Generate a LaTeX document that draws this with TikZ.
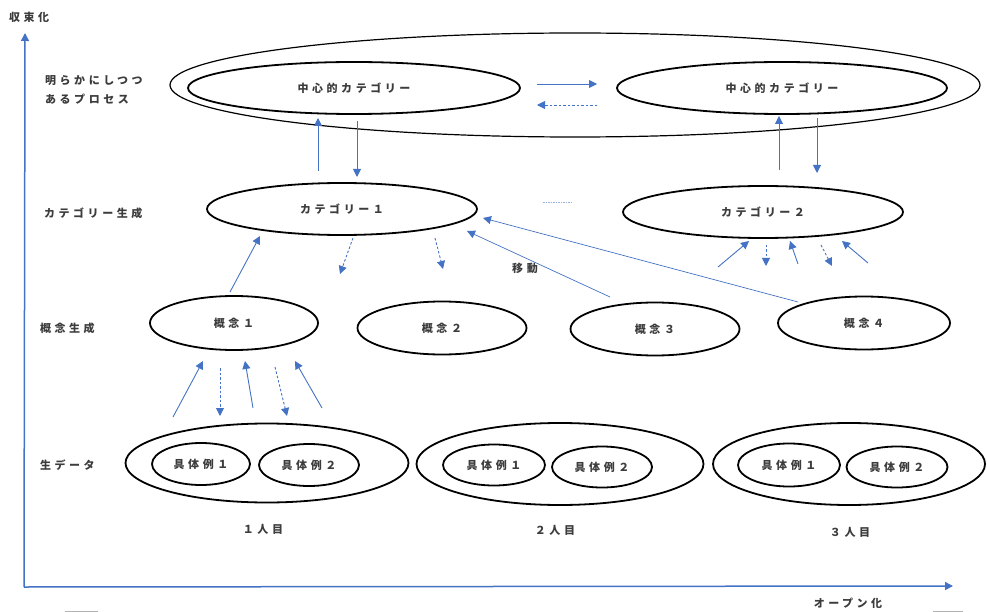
\documentclass[tikz,border=0pt]{standalone}
\usepackage{fontspec}
\newfontfamily\jp[LetterSpace=32]{Noto Sans CJK JP}
\usetikzlibrary{shapes.geometric,arrows.meta}
\definecolor{ablue}{RGB}{68,114,196}
\definecolor{txt}{RGB}{60,60,60}
\tikzset{
  ell/.style={draw=black, line width=1.8pt, ellipse, inner sep=0pt, font=\jp\bfseries\fontsize{11}{13}\selectfont, text=txt},
  lbl/.style={font=\jp\bfseries\fontsize{11}{13}\selectfont, text=txt, inner sep=0pt},
  sol/.style={draw=ablue, line width=0.9pt, -{Triangle[width=8pt,length=8pt]}},
  dsh/.style={draw=ablue, line width=0.9pt, dash pattern=on 2.5pt off 2pt, -{Triangle[width=8pt,length=8pt]}},
  thin/.style={draw=ablue, line width=0.7pt, -{Triangle[width=8pt,length=8pt]}},
  axisline/.style={draw=ablue, line width=1.5pt, -{Triangle[width=8pt,length=8pt]}},
}
\begin{document}
\begin{tikzpicture}[x=1pt,y=-1pt]
\useasboundingbox (0,0) rectangle (987,612);
% axes
\coordinate (O) at (24,587);
\coordinate (Ytop) at (25,33);
\coordinate (Xend) at (953,586);
\draw[axisline] (O) -- (Ytop);
\draw[axisline] (O) -- (Xend);
\node[lbl, anchor=west] (ylab) at (9,17) {収束化};
\node[lbl] (xlab) at (848,603) {オープン化};
% small gray marks at bottom
\coordinate (m1a) at (65,611); \coordinate (m1b) at (98,611);
\coordinate (m2a) at (933,611); \coordinate (m2b) at (963,611);
\draw[gray!60, line width=1pt] (m1a) -- (m1b);
\draw[gray!60, line width=1pt] (m2a) -- (m2b);

% row labels
\node[lbl, anchor=west] (r1a) at (45,81) {明らかにしつつ};
\node[lbl, anchor=west] (r1b) at (45,99) {あるプロセス};
\node[lbl, anchor=west] (r2) at (44,213) {カテゴリー生成};
\node[lbl, anchor=west] (r3) at (40,328) {概念生成};
\node[lbl, anchor=west] (r4) at (40,465) {生データ};

% top process
\node[ell, line width=1.2pt, minimum width=810pt, minimum height=104pt] (outer) at (575,85) {};
\node[ell, minimum width=332pt, minimum height=52pt] (c1) at (354,88) {中心的カテゴリー};
\node[ell, minimum width=330pt, minimum height=52pt] (c2) at (782,88) {中心的カテゴリー};

% categories
\node[ell, minimum width=270pt, minimum height=52pt] (cat1) at (342,209) {カテゴリー１};
\node[ell, minimum width=280pt, minimum height=52pt] (cat2) at (763,212) {カテゴリー２};

% concepts
\node[ell, minimum width=168pt, minimum height=54pt] (k1) at (234,323) {概念１};
\node[ell, minimum width=169pt, minimum height=53pt] (k2) at (442,328) {概念２};
\node[ell, minimum width=169pt, minimum height=53pt] (k3) at (655,329) {概念３};
\node[ell, minimum width=172pt, minimum height=53pt] (k4) at (864,323) {概念４};

% raw data
\node[ell, minimum width=283pt, minimum height=79pt] (g1) at (267,463) {};
\node[ell, minimum width=98pt, minimum height=42pt] (g1a) at (201,464) {具体例１};
\node[ell, minimum width=100pt, minimum height=42pt] (g1b) at (309,465) {具体例２};
\node[ell, minimum width=287pt, minimum height=82pt] (g2) at (560,464) {};
\node[ell, minimum width=102pt, minimum height=41pt] (g2a) at (494,465) {具体例１};
\node[ell, minimum width=100pt, minimum height=41pt] (g2b) at (602,467) {具体例２};
\node[ell, minimum width=272pt, minimum height=82pt] (g3) at (849,464) {};
\node[ell, minimum width=102pt, minimum height=43pt] (g3a) at (789,465) {具体例１};
\node[ell, minimum width=101pt, minimum height=41pt] (g3b) at (897,467) {具体例２};
\node[lbl] (p1) at (263,529) {１人目};
\node[lbl] (p2) at (555,530) {２人目};
\node[lbl] (p3) at (850,532) {３人目};

% arrows between central categories
\coordinate (h1s) at (537,84); \coordinate (h1e) at (597,84);
\coordinate (h2s) at (597,105); \coordinate (h2e) at (537,105);
\draw[sol] (h1s) -- (h1e);
\draw[dsh] (h2s) -- (h2e);

% vertical arrows central <-> categories
\coordinate (v1s) at (318,171); \coordinate (v1e) at (318,118);
\coordinate (v2s) at (357,121); \coordinate (v2e) at (357,177);
\coordinate (v3s) at (779,170); \coordinate (v3e) at (779,116);
\coordinate (v4s) at (817,118); \coordinate (v4e) at (817,173);
\draw[sol] (v1s) -- (v1e);
\draw[sol] (v2s) -- (v2e);
\draw[sol] (v3s) -- (v3e);
\draw[sol] (v4s) -- (v4e);

% short dotted line between categories
\coordinate (dl1) at (543,202); \coordinate (dl2) at (572,202);
\draw[ablue!55, line width=0.7pt, dash pattern=on 1.5pt off 1pt] (dl1) -- (dl2);

% category 1 arrows
\coordinate (a1s) at (230,292); \coordinate (a1e) at (260,236);
\coordinate (a2s) at (353,238); \coordinate (a2e) at (340,274);
\coordinate (a3s) at (435,238); \coordinate (a3e) at (443,269);
\draw[sol] (a1s) -- (a1e);
\draw[dsh] (a2s) -- (a2e);
\draw[dsh] (a3s) -- (a3e);

% move arrows
\coordinate (m3s) at (610,297); \coordinate (m3e) at (467,231);
\coordinate (m4s) at (798,302); \coordinate (m4e) at (483,218);
\draw[thin] (m3s) -- (m3e);
\draw[thin] (m4s) -- (m4e);
\node[lbl] (move) at (525,268) {移動};

% category 2 arrows
\coordinate (b1s) at (718,267); \coordinate (b1e) at (749,241);
\coordinate (b2s) at (766,245); \coordinate (b2e) at (766,266);
\coordinate (b3s) at (798,264); \coordinate (b3e) at (790,241);
\coordinate (b4s) at (821,245); \coordinate (b4e) at (832,266);
\coordinate (b5s) at (868,263); \coordinate (b5e) at (842,241);
\draw[sol] (b1s) -- (b1e);
\draw[dsh] (b2s) -- (b2e);
\draw[sol] (b3s) -- (b3e);
\draw[dsh] (b4s) -- (b4e);
\draw[sol] (b5s) -- (b5e);

% concept 1 arrows
\coordinate (d1s) at (173,417); \coordinate (d1e) at (203,361);
\coordinate (d2s) at (220,368); \coordinate (d2e) at (220,416);
\coordinate (d3s) at (253,408); \coordinate (d3e) at (245,361);
\coordinate (d4s) at (275,367); \coordinate (d4e) at (287,416);
\coordinate (d5s) at (322,408); \coordinate (d5e) at (295,361);
\draw[sol] (d1s) -- (d1e);
\draw[dsh] (d2s) -- (d2e);
\draw[sol] (d3s) -- (d3e);
\draw[dsh] (d4s) -- (d4e);
\draw[sol] (d5s) -- (d5e);
\end{tikzpicture}
\end{document}
